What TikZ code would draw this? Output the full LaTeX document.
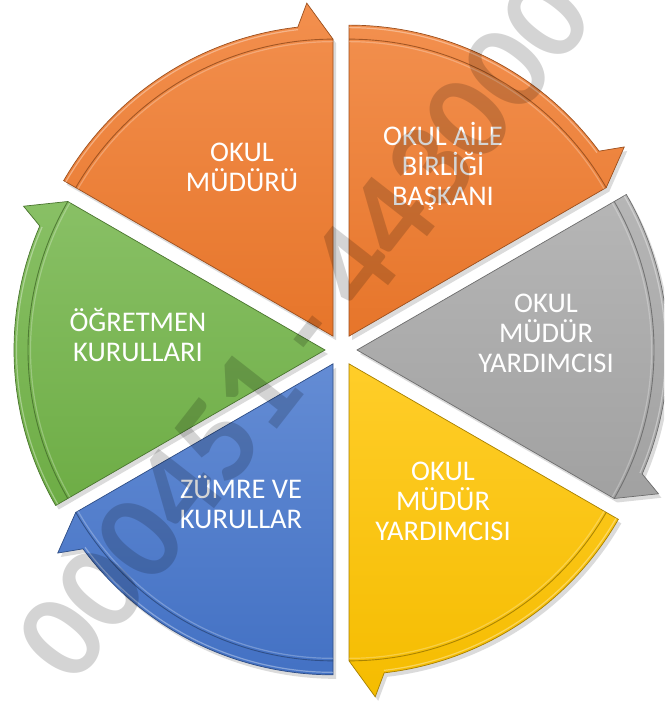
\documentclass[tikz,border=0pt]{standalone}
\usepackage{fontspec}
\setmainfont{Carlito}
\usetikzlibrary{calc}
\definecolor{cOrange}{HTML}{F07A2C}
\definecolor{cGray}{HTML}{A8A8A8}
\definecolor{cGold}{HTML}{FFC400}
\definecolor{cBlue}{HTML}{4676CC}
\definecolor{cGreen}{HTML}{72B448}
\tikzset{
  lab/.style={text=white, align=center, inner sep=0pt,
    font=\fontsize{28.5}{30}\selectfont},
  wmark/.style={text=black, text opacity=0.17, inner sep=0pt,
    font=\bfseries\fontsize{124}{124}\selectfont}
}
\newcommand\cyclesegment[2]{%
  \begin{scope}[shift={(#1:16)}]
    \pgfmathsetmacro\sA{#1+30}
    \pgfmathsetmacro\eA{#1-30}
    \pgfmathsetmacro\bA{#1-23.5}
    \pgfmathsetmacro\pA{#1-25.5}
    \fill[black, opacity=0.14, shift={(3,-4)}]
      (0,0) -- (\sA:311) arc[start angle=\sA, end angle=\bA, radius=311]
      -- (\pA:334) -- (\eA:297) -- cycle;
    \path[top color=#2!84!white, bottom color=#2!96!black,
          draw=#2!65!black, line width=0.7]
      (0,0) -- (\sA:311) arc[start angle=\sA, end angle=\bA, radius=311]
      -- (\pA:334) -- (\eA:297) -- cycle;
    \draw[#2!60!black, line width=0.9, opacity=0.8]
      (\sA:297) arc[start angle=\sA, end angle=\eA, radius=297];
    \draw[white, line width=1.2, opacity=0.35]
      (\sA:308.5) arc[start angle=\sA, end angle=\bA, radius=308.5];
    \draw[white, line width=1.2, opacity=0.25]
      (\sA:294.5) arc[start angle=\sA, end angle=\eA, radius=294.5];
  \end{scope}}
\begin{document}
\begin{tikzpicture}[x=1pt, y=1pt]
  \useasboundingbox (0,0) rectangle (664,703);
  \clip (0,0) rectangle (664,703);
  \fill[white] (0,0) rectangle (664,703);
  \begin{scope}[shift={(341,353)}]
    \cyclesegment{120}{cOrange}
    \cyclesegment{60}{cOrange}
    \cyclesegment{0}{cGray}
    \cyclesegment{-60}{cGold}
    \cyclesegment{-120}{cBlue}
    \cyclesegment{180}{cGreen}
  \end{scope}
  \node[lab] (t1) at (242,536) {OKUL\\MÜDÜRÜ};
  \node[lab] (t2) at (443,537) {OKUL AİLE\\BİRLİĞİ\\BAŞKANI};
  \node[lab] (t3) at (546,370) {OKUL\\MÜDÜR\\YARDIMCISI};
  \node[lab] (t4) at (443,202) {OKUL\\MÜDÜR\\YARDIMCISI};
  \node[lab] (t5) at (241,201) {ZÜMRE VE\\KURULLAR};
  \node[lab] (t6) at (138,368) {ÖĞRETMEN\\KURULLARI};
  \node[wmark, rotate=52] (wm) at (304,374) {000451 - 443000};
\end{tikzpicture}
\end{document}
